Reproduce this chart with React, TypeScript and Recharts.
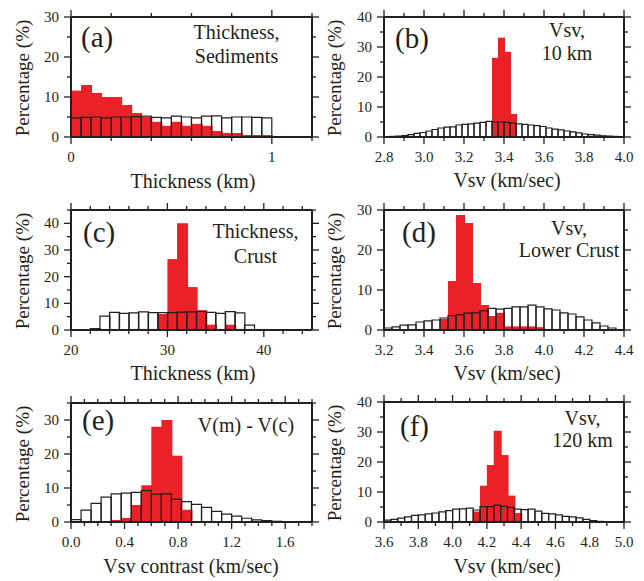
import React from 'react';
import { ComposedChart, Bar, XAxis, YAxis, Rectangle } from 'recharts';

const RED = '#ec2027';
const INK = '#231f20';
const FONT = "'Liberation Serif', 'DejaVu Serif', serif";

// ---------- (a) Thickness, Sediments ----------
const aBinStart = 0;
const aBinWidth = 0.05;
const aRed = [11.6, 13.0, 11.0, 10.0, 10.0, 8.0, 6.0, 5.0, 3.8, 2.8, 3.8, 2.8, 3.3, 2.8, 1.5, 1.0, 1.0, 0.5, 0.5, 0.5, 0, 0, 0, 0];
const aWhite = [4.8, 4.9, 5.0, 4.8, 5.0, 5.0, 5.1, 5.2, 4.9, 4.8, 5.2, 5.0, 4.8, 5.2, 5.3, 4.8, 5.0, 5.0, 4.9, 4.8, 0, 0, 0, 0];
const aXTicks = [0, 0.2, 0.4, 0.6, 0.8, 1.0, 1.2];
const aXMajor = [0, 1];
const aYTicks = [0, 5, 10, 15, 20, 25, 30];
const aYMajor = [0, 10, 20, 30];

// ---------- (b) Vsv, 10 km ----------
const bBinStart = 2.8;
const bBinWidth = 0.03;
const bRed = [0, 0, 0, 0, 0, 0, 0, 0, 0, 0, 0, 0, 0, 0, 0, 0, 0, 0, 26.4, 33.1, 28.4, 7.7, 0.3, 0, 0, 0, 0, 0, 0, 0, 0, 0, 0, 0, 0, 0, 0, 0, 0, 0];
const bWhite = [0.1, 0.2, 0.3, 0.5, 0.8, 1.2, 1.5, 2.0, 2.5, 3.0, 3.3, 3.4, 4.0, 4.2, 4.4, 4.6, 4.9, 5.2, 5.0, 5.0, 4.9, 4.6, 4.4, 4.2, 4.0, 3.8, 3.5, 3.0, 2.6, 2.4, 2.0, 1.7, 1.4, 1.0, 0.8, 0.6, 0.4, 0.3, 0.2, 0.1];
const bXTicks = [2.8, 2.9, 3.0, 3.1, 3.2, 3.3, 3.4, 3.5, 3.6, 3.7, 3.8, 3.9, 4.0];
const bXMajor = [2.8, 3.0, 3.2, 3.4, 3.6, 3.8, 4.0];
const bYTicks = [0, 5, 10, 15, 20, 25, 30, 35, 40];
const bYMajor = [0, 10, 20, 30, 40];

// ---------- (c) Thickness, Crust ----------
const cBinStart = 20;
const cBinWidth = 1;
const cRed = [0, 0, 0, 0, 0, 0, 0, 0, 0.4, 6.0, 26.6, 40.0, 16.1, 7.4, 2.0, 0.4, 2.0, 0.4, 0, 0, 0, 0, 0, 0, 0];
const cWhite = [0, 0, 0.5, 5.2, 6.6, 6.2, 6.4, 6.8, 6.5, 6.5, 6.5, 6.7, 6.8, 7.0, 6.6, 6.2, 6.9, 6.4, 1.8, 0, 0, 0, 0, 0, 0];
const cXTicks = [20, 22, 24, 26, 28, 30, 32, 34, 36, 38, 40, 42, 44];
const cXMajor = [20, 30, 40];
const cYTicks = [0, 5, 10, 15, 20, 25, 30, 35, 40, 45];
const cYMajor = [0, 10, 20, 30, 40];

// ---------- (d) Vsv, Lower Crust ----------
const dBinStart = 3.2;
const dBinWidth = 0.04;
const dRed = [0, 0, 0, 0, 0, 0, 0.2, 2.8, 12.25, 28.75, 26.75, 11.75, 6.25, 3.5, 4.3, 0.9, 0.9, 0.9, 0.9, 0.7, 0, 0, 0, 0, 0, 0, 0, 0, 0, 0];
const dWhite = [0.5, 0.8, 1.2, 1.3, 2.0, 2.3, 2.5, 3.0, 3.6, 3.8, 4.2, 4.3, 4.8, 5.4, 5.2, 5.4, 5.8, 5.8, 6.2, 5.8, 5.3, 5.0, 4.3, 4.0, 3.3, 2.5, 1.8, 1.0, 0.5, 0.1];
const dXTicks = [3.2, 3.3, 3.4, 3.5, 3.6, 3.7, 3.8, 3.9, 4.0, 4.1, 4.2, 4.3, 4.4];
const dXMajor = [3.2, 3.4, 3.6, 3.8, 4.0, 4.2, 4.4];
const dYTicks = [0, 5, 10, 15, 20, 25, 30];
const dYMajor = [0, 10, 20, 30];

// ---------- (e) V(m) - V(c) ----------
const eBinStart = 0;
const eBinWidth = 0.075;
const eRed = [0, 0, 0, 0, 0.6, 1.2, 5.0, 10.8, 28.0, 30.0, 19.5, 3.6, 0.3, 0, 0, 0, 0, 0, 0, 0, 0, 0, 0, 0];
const eWhite = [0.7, 3.5, 5.5, 7.3, 8.3, 8.5, 8.7, 9.2, 8.2, 8.3, 6.7, 6.0, 5.2, 4.3, 3.1, 2.3, 1.7, 1.1, 0.6, 0.4, 0.2, 0.1, 0.05, 0];
const eXTicks = [0, 0.1, 0.2, 0.3, 0.4, 0.5, 0.6, 0.7, 0.8, 0.9, 1.0, 1.1, 1.2, 1.3, 1.4, 1.5, 1.6, 1.7, 1.8];
const eXMajor = [0, 0.4, 0.8, 1.2, 1.6];
const eYTicks = [0, 5, 10, 15, 20, 25, 30, 35];
const eYMajor = [0, 10, 20, 30];

// ---------- (f) Vsv, 120 km ----------
const fBinStart = 3.6;
const fBinWidth = 0.04;
const fRed = [0, 0, 0, 0, 0, 0, 0, 0, 0, 0, 0, 0, 0, 3.5, 12.1, 19.0, 30.4, 22.3, 8.8, 3.0, 0, 0, 0, 0, 0, 0, 0, 0, 0, 0, 0, 0, 0, 0, 0];
const fWhite = [0.6, 0.9, 1.3, 1.7, 2.2, 2.4, 2.7, 3.0, 3.4, 3.8, 4.3, 4.4, 4.6, 4.0, 5.1, 5.1, 5.6, 5.2, 4.9, 4.3, 4.1, 4.3, 3.6, 2.9, 2.7, 2.4, 1.9, 1.7, 1.4, 0.9, 0.5, 0.2, 0.1, 0.05, 0];
const fXTicks = [3.6, 3.7, 3.8, 3.9, 4.0, 4.1, 4.2, 4.3, 4.4, 4.5, 4.6, 4.7, 4.8, 4.9, 5.0];
const fXMajor = [3.6, 3.8, 4.0, 4.2, 4.4, 4.6, 4.8, 5.0];
const fYTicks = [0, 5, 10, 15, 20, 25, 30, 35, 40];
const fYMajor = [0, 10, 20, 30, 40];

const near = (list: number[], v: number) => list.some((m) => Math.abs(m - v) < 1e-6);
const fmtInt = (v: number) => String(Math.round(v));
const fmt1 = (v: number) => v.toFixed(1);

const MAJOR = 7;
const MINOR = 4;
const TICK_W = 1.3;
const txt = { fontFamily: FONT };

type PanelProps = {
  col: number;
  left: number;
  top: number;
  pw: number;
  ph: number;
  binStart: number;
  binWidth: number;
  red: number[];
  white: number[];
  xDomain: [number, number];
  xTicks: number[];
  xMajor: number[];
  xFmt: (v: number) => string;
  yDomain: [number, number];
  yTicks: number[];
  yMajor: number[];
};

function Panel(p: PanelProps) {
  const W = 322;
  const chartLeft = p.col * 322;
  const relX = p.left - chartLeft;
  const H = 20 + p.ph + 45;
  const rows = p.white.map((w, i) => ({
    x: p.binStart + p.binWidth * (i + 0.5),
    red: p.red[i],
    white: w,
  }));
  const axisLine = { stroke: INK, strokeWidth: 2 };

  const BottomTick = (t: any) => {
    const v = t.payload.value;
    const maj = near(p.xMajor, v);
    return (
      <g>
        <line x1={t.x} x2={t.x} y1={t.y} y2={t.y + (maj ? MAJOR : MINOR)} stroke={INK} strokeWidth={TICK_W} />
        {maj && (
          <text x={t.x} y={t.y + 25} textAnchor="middle" fontSize={15} style={txt} fill={INK}>
            {p.xFmt(v)}
          </text>
        )}
      </g>
    );
  };
  const TopTick = (t: any) => {
    const v = t.payload.value;
    const maj = near(p.xMajor, v);
    return <line x1={t.x} x2={t.x} y1={t.y} y2={t.y - (maj ? MAJOR : MINOR)} stroke={INK} strokeWidth={TICK_W} />;
  };
  const LeftTick = (t: any) => {
    const v = t.payload.value;
    const maj = near(p.yMajor, v);
    return (
      <g>
        <line x1={t.x} x2={t.x - (maj ? MAJOR : MINOR)} y1={t.y} y2={t.y} stroke={INK} strokeWidth={TICK_W} />
        {maj && (
          <text x={t.x - 12} y={t.y + 5} textAnchor="end" fontSize={15} style={txt} fill={INK}>
            {fmtInt(v)}
          </text>
        )}
      </g>
    );
  };
  const RightTick = (t: any) => {
    const v = t.payload.value;
    const maj = near(p.yMajor, v);
    return <line x1={t.x} x2={t.x + (maj ? MAJOR : MINOR)} y1={t.y} y2={t.y} stroke={INK} strokeWidth={TICK_W} />;
  };

  return (
    <div style={{ position: 'absolute', left: chartLeft, top: p.top - 20, width: W, height: H }}>
      <ComposedChart
        width={W}
        height={H}
        data={rows}
        margin={{ top: 19, left: 0, right: W - relX - p.pw - 1, bottom: 0 }}
        barCategoryGap={0}
        barGap={0}
      >
        <XAxis
          xAxisId="b"
          type="number"
          dataKey="x"
          domain={p.xDomain}
          ticks={p.xTicks}
          interval={0}
          allowDataOverflow
          height={45}
          tickSize={0}
          tickMargin={0}
          tickLine={false}
          axisLine={axisLine}
          tick={BottomTick}
        />
        <XAxis xAxisId="h" type="number" dataKey="x" domain={p.xDomain} allowDataOverflow hide />
        <XAxis
          xAxisId="t"
          orientation="top"
          type="number"
          dataKey="x"
          domain={p.xDomain}
          ticks={p.xTicks}
          interval={0}
          allowDataOverflow
          height={1}
          tickSize={0}
          tickMargin={0}
          tickLine={false}
          axisLine={axisLine}
          tick={TopTick}
        />
        <YAxis
          yAxisId="l"
          type="number"
          domain={p.yDomain}
          ticks={p.yTicks}
          interval={0}
          allowDataOverflow
          width={relX}
          tickSize={0}
          tickMargin={0}
          tickLine={false}
          axisLine={axisLine}
          tick={LeftTick}
        />
        <YAxis
          yAxisId="r"
          orientation="right"
          type="number"
          domain={p.yDomain}
          ticks={p.yTicks}
          interval={0}
          allowDataOverflow
          width={1}
          tickSize={0}
          tickMargin={0}
          tickLine={false}
          axisLine={axisLine}
          tick={RightTick}
        />
        <Bar
          dataKey="red"
          xAxisId="b"
          yAxisId="l"
          fill={RED}
          isAnimationActive={false}
          shape={(s: any) => <Rectangle x={s.x} y={s.y} width={s.width + 1} height={s.height} fill={RED} />}
        />
        <Bar
          dataKey="white"
          xAxisId="h"
          yAxisId="l"
          fill="none"
          stroke={INK}
          strokeWidth={1.2}
          isAnimationActive={false}
        />
      </ComposedChart>
    </div>
  );
}

type Note = { letter: string; lx: number; ly: number; lines: string[]; cx: number; ys: number[]; xTitle: string; tx: number; ty: number; yx: number; yc: number };

const notes: Note[] = [
  { letter: '(a)', lx: 81, ly: 47, lines: ['Thickness,', 'Sediments'], cx: 236.5, ys: [39, 63], xTitle: 'Thickness (km)', tx: 193, ty: 188, yx: 29, yc: 78 },
  { letter: '(b)', lx: 395, ly: 48, lines: ['Vsv,', '10 km'], cx: 567, ys: [37, 60], xTitle: 'Vsv (km/sec)', tx: 507, ty: 187, yx: 341, yc: 78 },
  { letter: '(c)', lx: 83, ly: 242, lines: ['Thickness,', 'Crust'], cx: 255.5, ys: [238, 263], xTitle: 'Thickness (km)', tx: 193, ty: 380, yx: 29, yc: 271 },
  { letter: '(d)', lx: 402, ly: 242, lines: ['Vsv,', 'Lower Crust'], cx: 569, ys: [235, 257], xTitle: 'Vsv (km/sec)', tx: 507, ty: 380, yx: 341, yc: 271 },
  { letter: '(e)', lx: 82, ly: 430, lines: ['V(m) - V(c)'], cx: 246, ys: [432], xTitle: 'Vsv contrast (km/sec)', tx: 191, ty: 573, yx: 29, yc: 464 },
  { letter: '(f)', lx: 400, ly: 436, lines: ['Vsv,', '120 km'], cx: 582.5, ys: [425, 447], xTitle: 'Vsv (km/sec)', tx: 507, ty: 573, yx: 341, yc: 463 },
];

export default function App() {
  return (
    <div style={{ position: 'absolute', left: 0, top: 0, width: 644, height: 581, background: '#fff', overflow: 'hidden' }}>
      <Panel col={0} left={71} top={17} pw={241} ph={120} binStart={aBinStart} binWidth={aBinWidth} red={aRed} white={aWhite}
        xDomain={[0, 1.2]} xTicks={aXTicks} xMajor={aXMajor} xFmt={fmtInt} yDomain={[0, 30]} yTicks={aYTicks} yMajor={aYMajor} />
      <Panel col={1} left={384} top={17} pw={240} ph={120} binStart={bBinStart} binWidth={bBinWidth} red={bRed} white={bWhite}
        xDomain={[2.8, 4.0]} xTicks={bXTicks} xMajor={bXMajor} xFmt={fmt1} yDomain={[0, 40]} yTicks={bYTicks} yMajor={bYMajor} />
      <Panel col={0} left={71} top={210} pw={241} ph={120} binStart={cBinStart} binWidth={cBinWidth} red={cRed} white={cWhite}
        xDomain={[20, 45]} xTicks={cXTicks} xMajor={cXMajor} xFmt={fmtInt} yDomain={[0, 45]} yTicks={cYTicks} yMajor={cYMajor} />
      <Panel col={1} left={384} top={210} pw={240} ph={120} binStart={dBinStart} binWidth={dBinWidth} red={dRed} white={dWhite}
        xDomain={[3.2, 4.4]} xTicks={dXTicks} xMajor={dXMajor} xFmt={fmt1} yDomain={[0, 30]} yTicks={dYTicks} yMajor={dYMajor} />
      <Panel col={0} left={71} top={403} pw={241} ph={119} binStart={eBinStart} binWidth={eBinWidth} red={eRed} white={eWhite}
        xDomain={[0, 1.8]} xTicks={eXTicks} xMajor={eXMajor} xFmt={fmt1} yDomain={[0, 35]} yTicks={eYTicks} yMajor={eYMajor} />
      <Panel col={1} left={384} top={402} pw={240} ph={120} binStart={fBinStart} binWidth={fBinWidth} red={fRed} white={fWhite}
        xDomain={[3.6, 5.0]} xTicks={fXTicks} xMajor={fXMajor} xFmt={fmt1} yDomain={[0, 40]} yTicks={fYTicks} yMajor={fYMajor} />
      <svg width={644} height={581} style={{ position: 'absolute', left: 0, top: 0, pointerEvents: 'none' }}>
        {notes.map((n) => (
          <g key={n.letter} fill={INK} style={txt}>
            <text x={n.lx} y={n.ly} fontSize={29} style={txt}>{n.letter}</text>
            {n.lines.map((line, i) => (
              <text key={line} x={n.cx} y={n.ys[i]} fontSize={20} textAnchor="middle" style={txt}>{line}</text>
            ))}
            <text x={n.tx} y={n.ty} fontSize={20} textAnchor="middle" style={txt}>{n.xTitle}</text>
            <text x={n.yx} y={n.yc} fontSize={19} textAnchor="middle" style={txt} transform={`rotate(-90 ${n.yx} ${n.yc})`}>Percentage (%)</text>
          </g>
        ))}
      </svg>
    </div>
  );
}
